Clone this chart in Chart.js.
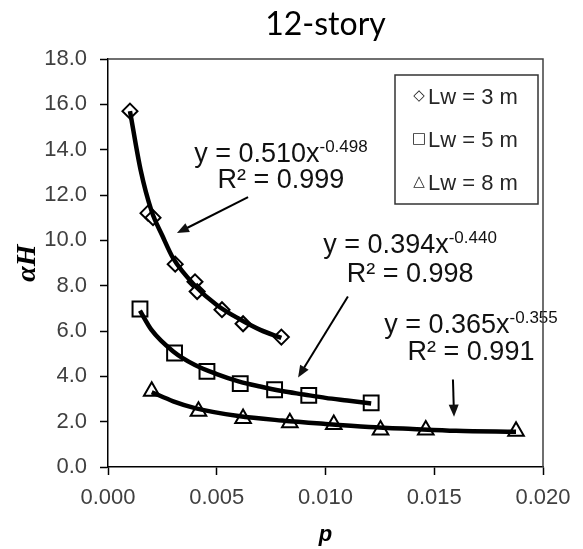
<!DOCTYPE html>
<html>
<head>
<meta charset="utf-8">
<script src="https://cdn.jsdelivr.net/npm/chart.js@4.4.1/dist/chart.umd.min.js"></script>
<style>
    html, body { margin: 0; padding: 0; background: #fff; }
</style>
</head>
<body>
<canvas id="chart" width="583" height="549"></canvas>
<script>
// tick labels
const xTicks = [0, 0.005, 0.010, 0.015, 0.020];
const yTicks = [0, 2, 4, 6, 8, 10, 12, 14, 16, 18];

// measured points (p, alpha H)
const lw3P = [0.00101, 0.00184, 0.00207, 0.00309, 0.00400, 0.00410, 0.00524, 0.00621, 0.00797];
const lw3A = [15.7, 11.2, 11.0, 8.95, 8.17, 7.74, 6.94, 6.32, 5.73];

const lw5P = [0.00147, 0.00306, 0.00455, 0.00608, 0.00766, 0.00923, 0.0121];
const lw5A = [6.97, 5.03, 4.22, 3.68, 3.41, 3.16, 2.83];

const lw8P = [0.00201, 0.00416, 0.00621, 0.00836, 0.01038, 0.01253, 0.01461, 0.01876];
const lw8A = [3.34, 2.46, 2.14, 1.95, 1.87, 1.63, 1.63, 1.58];

// power trend lines
const fit3P = [0.00101, 0.0015, 0.002, 0.0025, 0.003, 0.004, 0.005, 0.006, 0.007, 0.00797];
const fit3A = [15.7, 13.1, 11.3, 10.2, 9.2, 8.0, 7.15, 6.55, 6.05, 5.7];

const fit5P = [0.00147, 0.002, 0.003, 0.004, 0.005, 0.006, 0.007, 0.008, 0.009, 0.010, 0.011, 0.0121];
const fit5A = [6.9, 6.05, 5.1, 4.5, 4.1, 3.78, 3.55, 3.35, 3.2, 3.05, 2.93, 2.8];

const fit8P = [0.00201, 0.003, 0.004, 0.006, 0.008, 0.010, 0.012, 0.014, 0.016, 0.01876];
const fit8A = [3.3, 2.9, 2.6, 2.25, 2.05, 1.9, 1.77, 1.68, 1.6, 1.55];

const seriesNames = ['Lw = 3 m', 'Lw = 5 m', 'Lw = 8 m'];
const legendSymbols = ['\u25C7', '\u25A1', '\u25B3'];
const fitCoef = ['0.510', '0.394', '0.365'];
const fitExpo = ['-0.498', '-0.440', '-0.355'];
const fitR2 = ['0.999', '0.998', '0.991'];

const FONT = '"Liberation Sans", Arial, sans-serif';

// where the fit labels and their arrows sit, in data units
const notes = [
    { cx: 0.00795, y1: 13.46, y2: 12.31, from: [0.00644, 11.91], to: [0.00317, 10.32] },
    { cx: 0.01389, y1: 9.44, y2: 8.16, from: [0.01103, 7.52], to: [0.00874, 3.95] },
    { cx: 0.01669, y1: 5.91, y2: 4.74, from: [0.01586, 3.86], to: [0.01591, 2.22] }
];

const toPoints = (ps, as) => ps.map((p, i) => ({ x: p, y: as[i] }));

function drawArrow(ctx, x1, y1, x2, y2) {
    const ang = Math.atan2(y2 - y1, x2 - x1);
    const len = 12, half = 5;
    const c = Math.cos(ang), s = Math.sin(ang);
    ctx.beginPath();
    ctx.moveTo(x1, y1);
    ctx.lineTo(x2 - c * len * 0.8, y2 - s * len * 0.8);
    ctx.stroke();
    ctx.beginPath();
    ctx.moveTo(x2, y2);
    ctx.lineTo(x2 - len * c + half * s, y2 - len * s - half * c);
    ctx.lineTo(x2 - len * c - half * s, y2 - len * s + half * c);
    ctx.closePath();
    ctx.fill();
}

const extras = {
    id: 'extras',
    afterDraw(chart) {
        const { ctx, chartArea: area, scales: { x, y } } = chart;
        ctx.save();

        // title
        ctx.fillStyle = '#000';
        ctx.font = '32px Lato, "Open Sans", sans-serif';
        ctx.textAlign = 'center';
        ctx.textBaseline = 'alphabetic';
        ctx.fillText('12-story', (area.left + area.right) / 2, 35);

        // fit equations and arrows
        ctx.strokeStyle = '#000';
        ctx.fillStyle = '#111';
        ctx.lineWidth = 2;
        notes.forEach((n, i) => {
            const cx = x.getPixelForValue(n.cx);
            const main = 'y = ' + fitCoef[i] + 'x';
            ctx.font = '27px ' + FONT;
            const w1 = ctx.measureText(main).width;
            ctx.font = '17px ' + FONT;
            const w2 = ctx.measureText(fitExpo[i]).width;
            const x0 = cx - (w1 + w2) / 2;
            const b1 = y.getPixelForValue(n.y1);
            ctx.textAlign = 'left';
            ctx.font = '27px ' + FONT;
            ctx.fillText(main, x0, b1);
            ctx.font = '17px ' + FONT;
            ctx.fillText(fitExpo[i], x0 + w1, b1 - 10);
            ctx.textAlign = 'center';
            ctx.font = '27px ' + FONT;
            ctx.fillText('R\u00B2 = ' + fitR2[i], cx, y.getPixelForValue(n.y2));

            drawArrow(ctx,
                x.getPixelForValue(n.from[0]), y.getPixelForValue(n.from[1]),
                x.getPixelForValue(n.to[0]), y.getPixelForValue(n.to[1]));
        });

        // legend box
        const lx = area.right - 148, ly = area.top + 16;
        ctx.strokeStyle = '#333';
        ctx.lineWidth = 1.5;
        ctx.strokeRect(lx, ly, 143, 129);
        seriesNames.forEach((name, i) => {
            const base = ly + 29 + i * 43;
            ctx.fillStyle = '#262626';
            ctx.textAlign = 'center';
            ctx.textBaseline = 'middle';
            ctx.font = '15px "DejaVu Sans", sans-serif';
            ctx.fillText(legendSymbols[i], lx + 24, base - 8);
            ctx.textAlign = 'left';
            ctx.textBaseline = 'alphabetic';
            ctx.font = '22px ' + FONT;
            ctx.fillText(name, lx + 33, base);
        });

        // top and right frame
        ctx.strokeStyle = '#404040';
        ctx.lineWidth = 1.5;
        ctx.beginPath();
        ctx.moveTo(area.left, area.top);
        ctx.lineTo(area.right, area.top);
        ctx.lineTo(area.right, area.bottom);
        ctx.stroke();

        ctx.restore();
    }
};

const markerStyles = ['rectRot', 'rect', 'triangle'];
const markerRadius = [7.5, 10.5, 9];
const markerData = [toPoints(lw3P, lw3A), toPoints(lw5P, lw5A), toPoints(lw8P, lw8A)];
const fitData = [toPoints(fit3P, fit3A), toPoints(fit5P, fit5A), toPoints(fit8P, fit8A)];

const datasets = [];
fitData.forEach((data, i) => {
    datasets.push({
        label: seriesNames[i] + ' fit',
        data: data,
        showLine: true,
        borderColor: '#000',
        borderWidth: 4.5,
        pointRadius: 0,
        cubicInterpolationMode: 'monotone',
        order: 0
    });
});
markerData.forEach((data, i) => {
    datasets.push({
        label: seriesNames[i],
        data: data,
        showLine: false,
        pointStyle: markerStyles[i],
        pointRadius: markerRadius[i],
        pointBorderWidth: 2,
        pointBorderColor: '#000',
        pointBackgroundColor: '#fff',
        order: 1
    });
});

new Chart(document.getElementById('chart'), {
    type: 'scatter',
    data: { datasets: datasets },
    options: {
        responsive: false,
        animation: false,
        layout: { padding: { left: 0, right: 40, top: 59, bottom: 0 } },
        plugins: {
            legend: { display: false },
            title: { display: false },
            tooltip: { enabled: false }
        },
        scales: {
            x: {
                type: 'linear',
                min: xTicks[0],
                max: xTicks[xTicks.length - 1],
                afterBuildTicks: (scale) => { scale.ticks = xTicks.map(v => ({ value: v })); },
                afterFit: (scale) => { scale.height = 82; },
                ticks: {
                    callback: (value) => value.toFixed(3),
                    font: { family: FONT, size: 22 },
                    color: '#404040',
                    padding: 10,
                    maxRotation: 0
                },
                grid: { drawOnChartArea: false, drawTicks: true, tickLength: 8, color: '#000', tickWidth: 1.5 },
                border: { color: '#000', width: 1.5 },
                title: {
                    display: true,
                    text: 'p',
                    font: { family: FONT, size: 22, style: 'italic', weight: 'bold' },
                    color: '#000',
                    padding: { top: 0, bottom: 1 }
                }
            },
            y: {
                type: 'linear',
                min: yTicks[0],
                max: yTicks[yTicks.length - 1],
                afterBuildTicks: (scale) => { scale.ticks = yTicks.map(v => ({ value: v })); },
                afterFit: (scale) => { scale.width = 108; },
                ticks: {
                    callback: (value) => value.toFixed(1),
                    font: { family: FONT, size: 22 },
                    color: '#404040',
                    padding: 13
                },
                grid: { drawOnChartArea: false, drawTicks: true, tickLength: 8, color: '#000', tickWidth: 1.5 },
                border: { color: '#000', width: 1.5 },
                title: {
                    display: true,
                    text: '\u03B1H',
                    font: { family: '"Liberation Serif", "Times New Roman", serif', size: 28, style: 'italic', weight: 'bold' },
                    color: '#000',
                    padding: { top: 11, bottom: 0 }
                }
            }
        }
    },
    plugins: [extras]
});
</script>
</body>
</html>
